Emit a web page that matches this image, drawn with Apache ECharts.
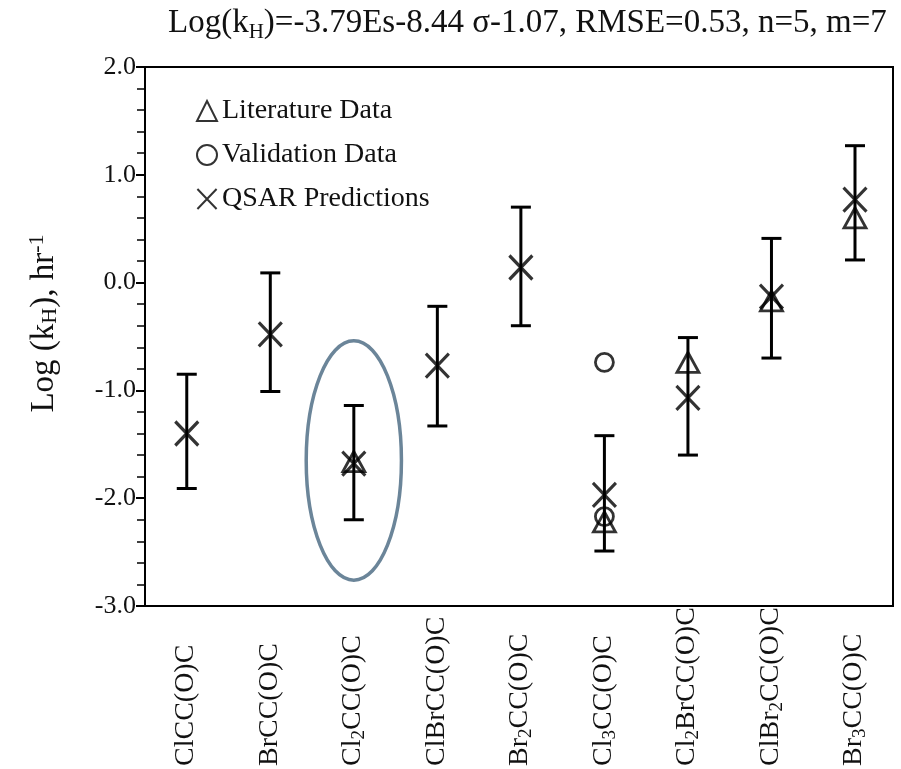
<!DOCTYPE html>
<html><head><meta charset="utf-8">
<script src="https://cdn.jsdelivr.net/npm/echarts@6/dist/echarts.min.js"></script>
<style>html,body{margin:0;padding:0;background:#fff}#c{width:901px;height:769px}</style>
</head><body><div id="c"></div>
<script>
// ---- data ----
const categories = ['ClCC(O)C','BrCC(O)C','Cl2CC(O)C','ClBrCC(O)C','Br2CC(O)C','Cl3CC(O)C','Cl2BrCC(O)C','ClBr2CC(O)C','Br3CC(O)C'];
const categoryLabels = ['{n|ClCC(O)C}','{n|BrCC(O)C}','{n|Cl}{s|2}{n|CC(O)C}','{n|ClBrCC(O)C}','{n|Br}{s|2}{n|CC(O)C}','{n|Cl}{s|3}{n|CC(O)C}','{n|Cl}{s|2}{n|BrCC(O)C}','{n|ClBr}{s|2}{n|CC(O)C}','{n|Br}{s|3}{n|CC(O)C}'];
const categoryPos = [1,2,3,4,5,6,7,8,9];
const qsarPred = [-1.40,-0.48,-1.68,-0.77,0.14,-1.97,-1.07,-0.13,0.77];
const errHigh  = [-0.85,0.09,-1.14,-0.22,0.70,-1.42,-0.51,0.41,1.27];
const errLow   = [-1.91,-1.01,-2.20,-1.33,-0.40,-2.49,-1.60,-0.70,0.21];
const litPos = [3,6,7,8,9];
const litVal = [-1.66,-2.22,-0.74,-0.17,0.60];
const valPos = [6,6];
const valVal = [-0.74,-2.17];
const yTickLabels = ['-3.0','-2.0','-1.0','0.0','1.0','2.0'];
const highlightPos = 3, highlightVal = -1.65, highlightRx = 0.57, highlightRy = 1.11;

const FONT = "'Liberation Serif','Times New Roman',serif";
const INK = '#111';

const chart = echarts.init(document.getElementById('c'), null, {renderer:'canvas'});
const xSym = 'path://M0,0L23,24M23,0L0,24';

chart.setOption({
  animation:false,
  backgroundColor:'#fff',
  title:{
    text:'{n|Log(k}{s|H}{n|)=-3.79Es-8.44 σ-1.07, RMSE=0.53, n=5, m=7}',
    left:163, top:2,
    textStyle:{fontFamily:FONT, fontWeight:'normal', color:INK, rich:{
      n:{fontFamily:FONT, fontWeight:'normal', fontSize:33, color:INK, lineHeight:36, verticalAlign:'top'},
      s:{fontFamily:FONT, fontWeight:'normal', fontSize:21, color:INK, lineHeight:12, verticalAlign:'bottom'}
    }}
  },
  grid:{left:145, right:8, top:67, bottom:161, show:true, borderColor:'#000', borderWidth:2, backgroundColor:'transparent'},
  legend:{
    orient:'vertical', left:191, top:92, itemWidth:20, itemHeight:20, itemGap:16,
    data:['Literature Data','Validation Data','QSAR Predictions'],
    textStyle:{fontFamily:FONT, fontSize:28, color:INK}, selectedMode:false
  },
  xAxis:{
    type:'value', min:0.5, max:9.455,
    axisLine:{show:true, onZero:false, lineStyle:{color:'#000', width:2}},
    axisTick:{show:false}, splitLine:{show:false},
    axisLabel:{
      customValues:categoryPos,
      formatter:(v)=>categoryLabels[Math.round(v)-1] || '',
      rotate:90, align:'left', verticalAlign:'middle', margin:160,
      rich:{
        n:{fontFamily:FONT, fontSize:28, color:INK, lineHeight:30, verticalAlign:'top'},
        s:{fontFamily:FONT, fontSize:19, color:INK, lineHeight:10, verticalAlign:'bottom'}
      }
    }
  },
  yAxis:{
    type:'value', min:-3, max:2, interval:1,
    name:'{n|Log (k}{s|H}{n|), hr}{p|-1}',
    nameLocation:'middle', nameRotate:90, nameGap:84,
    nameTextStyle:{padding:[0,0,0,26], rich:{
      n:{fontFamily:FONT, fontSize:33, color:INK, lineHeight:35, verticalAlign:'bottom'},
      s:{fontFamily:FONT, fontSize:22, color:INK, lineHeight:10, verticalAlign:'bottom'},
      p:{fontFamily:FONT, fontSize:22, color:INK, lineHeight:16, verticalAlign:'top'}
    }},
    axisLine:{show:true, lineStyle:{color:'#000', width:2}},
    axisTick:{show:true, inside:false, length:9, lineStyle:{color:'#000', width:2}},
    minorTick:{show:true, splitNumber:5, length:8, lineStyle:{color:'#000', width:1.5}},
    splitLine:{show:false},
    axisLabel:{margin:9, fontFamily:FONT, fontSize:26, color:INK,
      formatter:(v)=>yTickLabels[Math.round(v)+3]}
  },
  series:[
    {
      name:'Error bars', type:'custom', z:2,
      data:categoryPos.map((p,i)=>[p, errHigh[i], errLow[i]]),
      renderItem:(params, api)=>{
        const top = api.coord([api.value(0), api.value(1)]);
        const bot = api.coord([api.value(0), api.value(2)]);
        const cw = 10;
        const st = {stroke:'#000', lineWidth:3, fill:null};
        return {type:'group', children:[
          {type:'line', shape:{x1:top[0], y1:top[1], x2:bot[0], y2:bot[1]}, style:st},
          {type:'line', shape:{x1:top[0]-cw, y1:top[1], x2:top[0]+cw, y2:top[1]}, style:st},
          {type:'line', shape:{x1:bot[0]-cw, y1:bot[1], x2:bot[0]+cw, y2:bot[1]}, style:st}
        ]};
      }
    },
    {
      name:'Highlight', type:'custom', z:1, silent:true,
      data:[[highlightPos, highlightVal, highlightRx, highlightRy]],
      renderItem:(params, api)=>{
        const c = api.coord([api.value(0), api.value(1)]);
        const s = api.size([api.value(2), api.value(3)]);
        return {type:'ellipse', shape:{cx:c[0], cy:c[1], rx:s[0], ry:s[1]},
          style:{stroke:'#6b8599', lineWidth:3.5, fill:null}};
      }
    },
    {
      name:'Literature Data', type:'scatter', z:4,
      symbol:'triangle', symbolSize:[22,20],
      itemStyle:{color:'rgba(255,255,255,0)', borderColor:'#000', borderWidth:2.8},
      data:litPos.map((p,i)=>[p, litVal[i]])
    },
    {
      name:'Validation Data', type:'scatter', z:4,
      symbol:'circle', symbolSize:18,
      itemStyle:{color:'rgba(255,255,255,0)', borderColor:'#000', borderWidth:2.8},
      data:valPos.map((p,i)=>[p, valVal[i]])
    },
    {
      name:'QSAR Predictions', type:'scatter', z:5,
      symbol:xSym, symbolSize:[23,24],
      itemStyle:{color:'rgba(0,0,0,0)', borderColor:'#000', borderWidth:3.2},
      data:categoryPos.map((p,i)=>[p, qsarPred[i]])
    }
  ]
});
</script></body></html>
